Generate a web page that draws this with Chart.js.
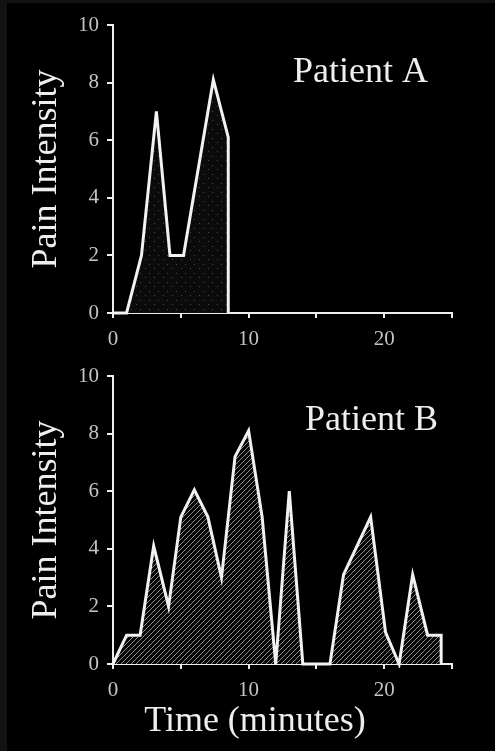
<!DOCTYPE html>
<html>
<head>
<meta charset="utf-8">
<script src="https://cdn.jsdelivr.net/npm/chart.js@4.4.0/dist/chart.umd.min.js"></script>
<style>
  html, body { margin: 0; padding: 0; background: #000; }
  body { width: 495px; height: 751px; position: relative; overflow: hidden; }
  .frameL { position: absolute; left: 0; top: 0; width: 7px; height: 751px; background: #121212; }
  .frameT { position: absolute; left: 0; top: 0; width: 495px; height: 3px; background: #121212; }
  canvas { position: absolute; left: 0; }
  #chartA { top: 0; }
  #chartB { top: 350px; }
</style>
</head>
<body>
<div class="frameL"></div>
<div class="frameT"></div>
<canvas id="chartA" width="495" height="370"></canvas>
<canvas id="chartB" width="495" height="401"></canvas>
<script>
// data (time in minutes, pain 0-10)
const timeA = [0, 1, 2.1, 3.2, 4.2, 5.2, 7.4, 8.5, 8.5];
const painA = [0, 0, 2, 7, 2, 2, 8.1, 6.1, 0];
const timeB = [0, 1, 2, 3, 4.1, 5, 6, 7, 8, 9, 10, 11, 12, 13, 14, 16, 17, 19, 20.1, 21.1, 22.1, 23.2, 24.2, 24.2];
const painB = [0, 1, 1, 4.1, 2, 5.1, 6.05, 5.1, 3, 7.2, 8.1, 5.1, 0, 6, 0, 0, 3.1, 5.1, 1.1, 0, 3.1, 1, 1, 0];
const xLabels = [0, 10, 20];

const serif = '"Liberation Serif", "DejaVu Serif", serif';

function hatchPattern() {
  const c = document.createElement('canvas');
  const s = 5;
  c.width = c.height = s;
  const g = c.getContext('2d');
  g.fillStyle = '#050505';
  g.fillRect(0, 0, s, s);
  g.strokeStyle = '#8c8c8c';
  g.lineWidth = 1;
  g.beginPath();
  g.moveTo(0, s); g.lineTo(s, 0);
  g.moveTo(-1, 1); g.lineTo(1, -1);
  g.moveTo(s - 1, s + 1); g.lineTo(s + 1, s - 1);
  g.stroke();
  return g.createPattern(c, 'repeat');
}

function dotPattern() {
  const c = document.createElement('canvas');
  c.width = c.height = 9;
  const g = c.getContext('2d');
  g.fillStyle = '#0b0b0b';
  g.fillRect(0, 0, 9, 9);
  g.fillStyle = '#4a4a4a';
  g.fillRect(1, 7, 1, 1);
  g.fillRect(5, 3, 1, 1);
  return g.createPattern(c, 'repeat');
}

// free text (panel names, bottom title) placed relative to the chart area
const freeText = {
  id: 'freeText',
  afterDraw(chart, args, opts) {
    const { ctx, chartArea } = chart;
    ctx.save();
    ctx.font = '36px ' + serif;
    ctx.fillStyle = '#eeeeee';
    ctx.textBaseline = 'alphabetic';
    opts.items.forEach(it => {
      ctx.textAlign = it.align || 'left';
      ctx.fillText(it.text, chartArea.left + it.dx, chartArea.top + it.dy);
    });
    ctx.restore();
  }
};

function makeChart(id, times, pains, fillStyle, texts, padTop, xHeight) {
  new Chart(document.getElementById(id), {
    type: 'line',
    data: {
      datasets: [{
        data: times.map((t, i) => ({ x: t, y: pains[i] })),
        borderColor: '#f2f2f2',
        borderWidth: 3,
        pointRadius: 0,
        tension: 0,
        fill: 'origin',
        backgroundColor: fillStyle,
        clip: 4
      }]
    },
    options: {
      responsive: false,
      animation: false,
      layout: { padding: { top: padTop, right: 43, bottom: 0, left: 0 } },
      plugins: {
        legend: { display: false },
        tooltip: { enabled: false },
        freeText: { items: texts }
      },
      scales: {
        x: {
          type: 'linear',
          min: 0, max: 25,
          afterFit: s => { s.height = xHeight; },
          ticks: {
            stepSize: 5,
            autoSkip: false,
            maxRotation: 0,
            padding: 9,
            color: '#c4c4c4',
            font: { family: serif, size: 21 },
            callback: v => xLabels.includes(v) ? String(v) : ''
          },
          grid: { drawOnChartArea: false, tickLength: 5, tickColor: '#eeeeee', lineWidth: 2 },
          border: { color: '#eeeeee', width: 2 }
        },
        y: {
          min: 0, max: 10,
          afterFit: s => { s.width = 113; },
          ticks: {
            stepSize: 2,
            padding: 8,
            color: '#c4c4c4',
            font: { family: serif, size: 21 }
          },
          grid: { drawOnChartArea: false, tickLength: 6, tickColor: '#eeeeee', lineWidth: 2 },
          border: { color: '#eeeeee', width: 2 },
          title: {
            display: true,
            text: 'Pain Intensity',
            color: '#eeeeee',
            font: { family: serif, size: 36 },
            padding: { top: 25, bottom: 0 }
          }
        }
      }
    },
    plugins: [freeText]
  });
}

makeChart('chartA', timeA, painA, dotPattern(),
  [{ text: 'Patient A', dx: 180, dy: 57 }], 25, 57);
makeChart('chartB', timeB, painB, hatchPattern(),
  [{ text: 'Patient B', dx: 192, dy: 54 },
   { text: 'Time (minutes)', dx: 142, dy: 355, align: 'center' }], 26, 87);
</script>
</body>
</html>
